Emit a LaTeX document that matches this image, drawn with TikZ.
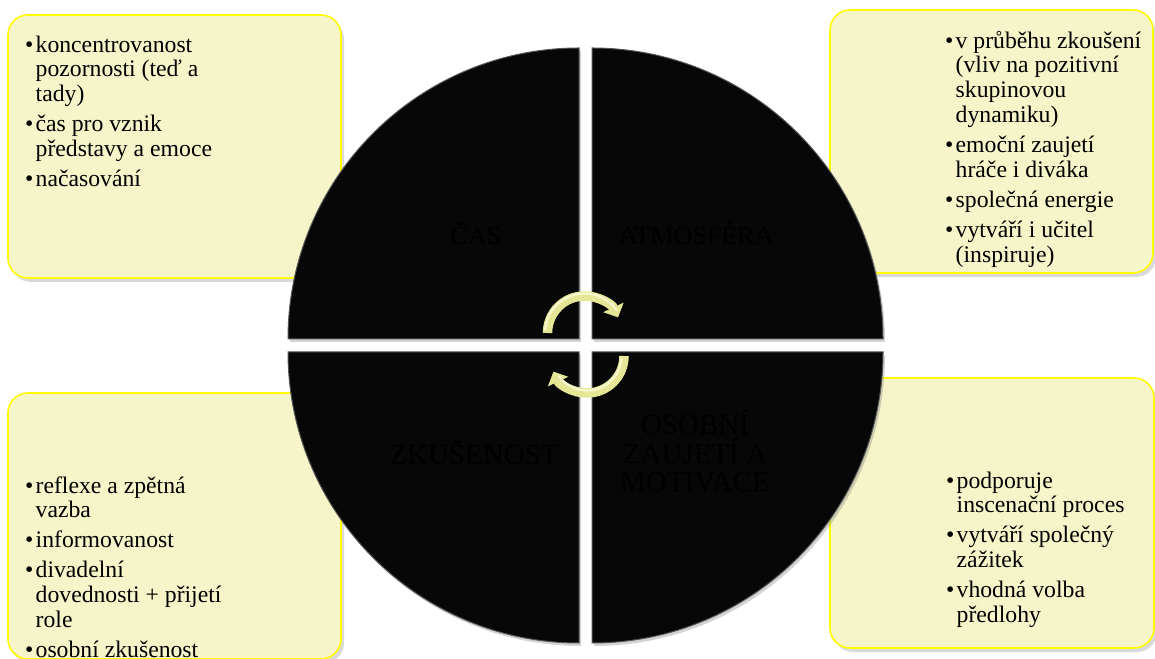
\documentclass[tikz,border=0pt]{standalone}
\usepackage{fontspec}
\setmainfont{Liberation Serif}
\usepackage{xcolor}
\definecolor{noteFill}{HTML}{F5F5C9}
\definecolor{noteEdge}{HTML}{FFFF00}
\definecolor{quadFill}{HTML}{070707}
\definecolor{quadEdge}{HTML}{555555}
\definecolor{turnYellow}{HTML}{E6E697}
\definecolor{turnLight}{HTML}{FBFBD9}
\usetikzlibrary{arrows.meta, positioning, shadows, calc}

\newcommand{\pitem}[1]{\par\hangindent=10.5pt\hangafter=1\noindent\makebox[10.5pt][l]{\textbullet}\rule{0pt}{0.7\baselineskip}#1\par}

\begin{document}
\begin{tikzpicture}[
    x=1pt, y=1pt,
    note/.style={rectangle, rounded corners=20pt, draw=noteEdge, fill=noteFill, line width=1.6pt,
                 drop shadow={shadow xshift=3pt, shadow yshift=-4pt, opacity=0.3}},
    list/.style={anchor=north west, inner sep=0pt, text width=240pt, align=flush left,
                 font=\fontsize{23.7}{24.8}\selectfont,
                 execute at begin node={\setlength{\parskip}{5.2pt}}},
    quad/.style={fill=quadFill, draw=quadEdge, line width=1pt,
                 drop shadow={shadow xshift=2pt, shadow yshift=-3pt, opacity=0.35}},
    quadlabel/.style={text=black, align=center, inner sep=0pt},
    turn/.style={line width=9.5pt, draw=turnYellow, -{Triangle[length=11pt, width=22pt]}},
    sheen/.style={line width=2.2pt, draw=turnLight, opacity=0.85}
]
\useasboundingbox (0,0) rectangle (1155,658);

\node[note, minimum width=333pt, minimum height=263pt] (tlnote) at (174.5,511.5) {};
\node[note, minimum width=323pt, minimum height=263pt] (trnote) at (991.5,516.5) {};
\node[note, minimum width=333pt, minimum height=266pt] (blnote) at (174.5,132) {};
\node[note, minimum width=324pt, minimum height=270pt] (brnote) at (992,145) {};

\node[list] (tllist) at (25,636) {%
  \pitem{koncentrovanost\newline pozornosti (teď a\newline tady)}
  \pitem{čas pro vznik\newline představy a emoce}
  \pitem{načasování}};
\node[list] (trlist) at (945,640) {%
  \pitem{v průběhu zkoušení\newline (vliv na pozitivní\newline skupinovou\newline dynamiku)}
  \pitem{emoční zaujetí\newline hráče i diváka}
  \pitem{společná energie}
  \pitem{vytváří i učitel\newline (inspiruje)}};
\node[list] (bllist) at (25,195) {%
  \pitem{reflexe a zpětná\newline vazba}
  \pitem{informovanost}
  \pitem{divadelní\newline dovednosti + přijetí\newline role}
  \pitem{osobní zkušenost}};
\node[list] (brlist) at (946,200) {%
  \pitem{podporuje\newline inscenační proces}
  \pitem{vytváří společný\newline zážitek}
  \pitem{vhodná volba\newline předlohy}};

\coordinate (tl) at (579,319);
\coordinate (tr) at (592,319);
\coordinate (bl) at (579,306);
\coordinate (br) at (592,306);
\path[quad] (tl) -- ++(-291,0) arc[start angle=180, end angle=90, radius=291] -- cycle;
\path[quad] (tr) -- ++(0,291) arc[start angle=90, end angle=0, radius=291] -- cycle;
\path[quad] (bl) -- ++(-291,0) arc[start angle=180, end angle=270, radius=291] -- cycle;
\path[quad] (br) -- ++(0,-291) arc[start angle=270, end angle=360, radius=291] -- cycle;

\node[quadlabel, font=\fontsize{26}{28}\selectfont, anchor=base] (cas) at (476,413) {ČAS};
\node[quadlabel, font=\fontsize{26}{28}\selectfont, anchor=base] (atmosfera) at (696,413) {ATMOSFÉRA};
\node[quadlabel, font=\fontsize{29}{28.5}\selectfont, anchor=base] (zkusenost) at (474,193) {ZKUŠENOST};
\node[quadlabel, font=\fontsize{29}{28.5}\selectfont] (motivace) at (695,207) {OSOBNÍ\\ZAUJETÍ A\\MOTIVACE};

\coordinate (upc) at (584.5,325);
\coordinate (downc) at (587,302);
\draw[turn] ([shift={(180:37)}]upc) arc[start angle=180, end angle=25, radius=37];
\draw[turn] ([shift={(0:37)}]downc) arc[start angle=0, end angle=-155, radius=37];
\draw[sheen] ([shift={(176:39.5)}]upc) arc[start angle=176, end angle=35, radius=39.5];
\draw[sheen] ([shift={(-4:34.5)}]downc) arc[start angle=-4, end angle=-145, radius=34.5];
\end{tikzpicture}
\end{document}
